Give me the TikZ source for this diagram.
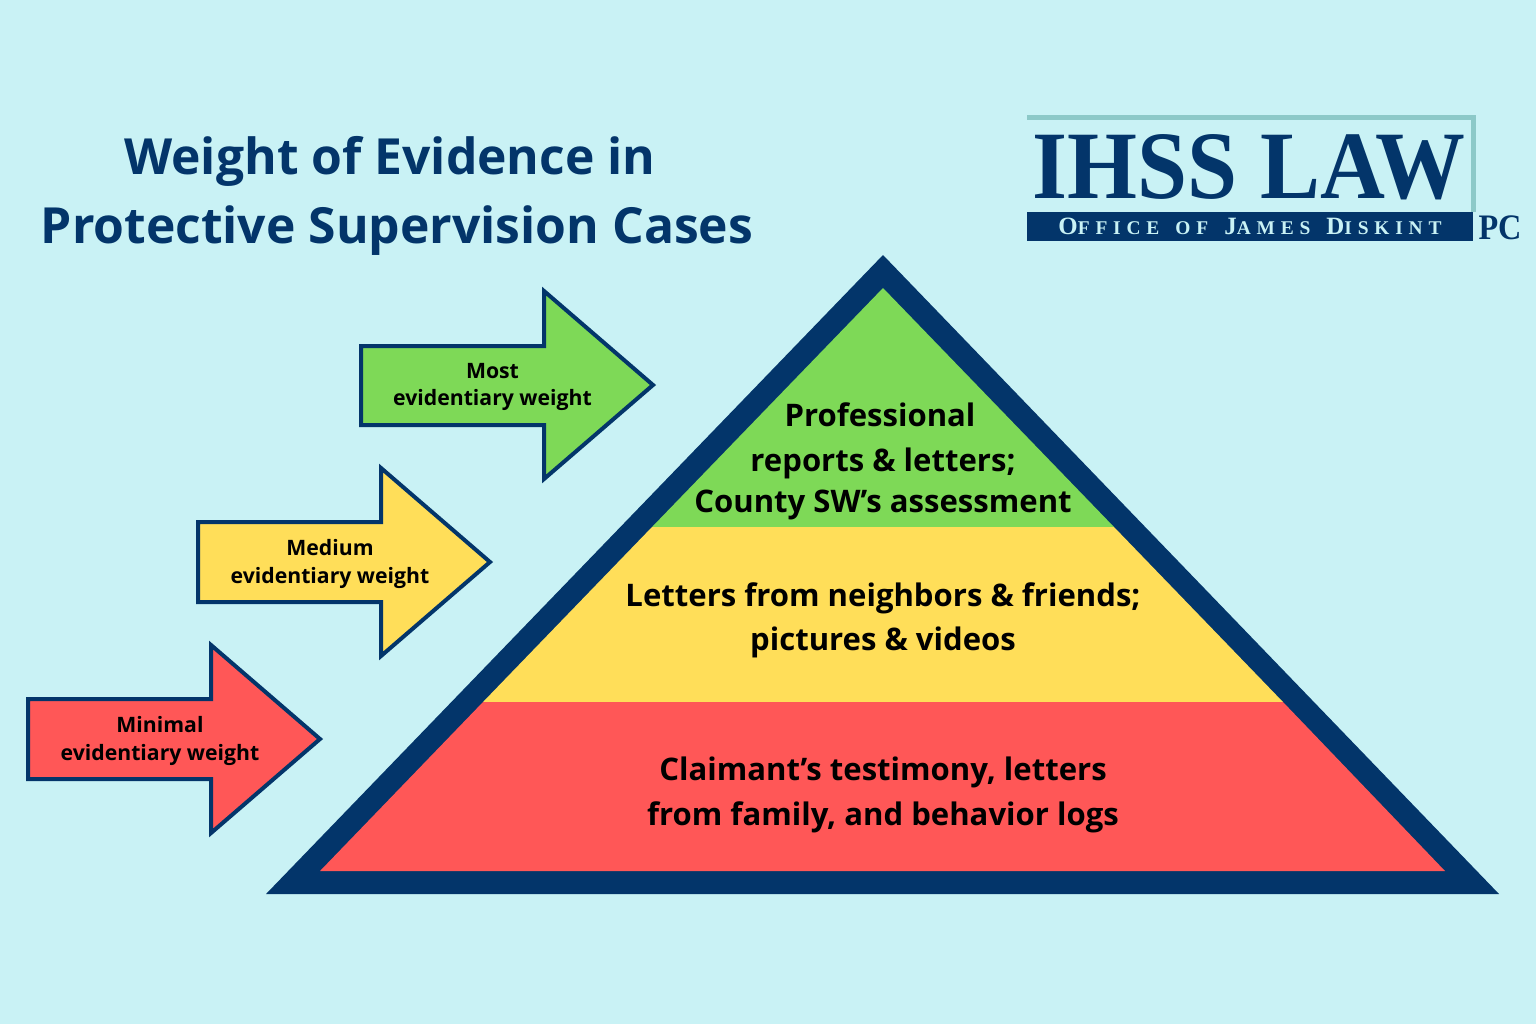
\documentclass[tikz,border=0pt]{standalone}
\usepackage{fontspec}
\setmainfont{Open Sans}
\newfontfamily\logofont{Liberation Serif Bold}
\newfontfamily\logospaced{Liberation Serif Bold}[LetterSpace=30,WordSpace=1.5]
\definecolor{bgc}{HTML}{C9F2F5}
\definecolor{navy}{HTML}{03356A}
\definecolor{teal}{HTML}{8CC9C8}
\definecolor{gr}{HTML}{7ED957}
\definecolor{ye}{HTML}{FFDE59}
\definecolor{re}{HTML}{FF5757}
\newcommand{\sm}[1]{{\fontsize{25}{25}\selectfont #1}}
\tikzset{
 arrowshape/.style={draw=navy,line width=4bp,miter limit=10,line join=miter},
 titletext/.style={text=navy,font=\fontsize{50}{70}\selectfont\bfseries,align=center,inner sep=0pt},
 layertext/.style={text=black,font=\fontsize{31.2}{44.5}\selectfont\bfseries,align=center,inner sep=0pt},
 arrowtext/.style={text=black,font=\fontsize{21.3}{28}\selectfont\bfseries,align=center,inner sep=0pt},
}
\begin{document}
\begin{tikzpicture}[x=1bp,y=-1bp]
\useasboundingbox (0,0) rectangle (1536,1024);
\fill[bgc] (0,0) rectangle (1536,1024);
% title
\node[titletext] (t1) at (390,161) {Weight of Evidence in};
\node[titletext] (t2) at (397,231) {Protective Supervision Cases};
% logo
\fill[teal] (1027,115) rectangle (1476,120);
\fill[teal] (1471,115) rectangle (1476,212);
\fill[navy] (1027,212) rectangle (1473,241);
\node[inner sep=0pt,text=navy,font=\logofont\fontsize{97}{97}\selectfont,xscale=0.93,transform shape] (logo) at (1249,167.5) {IHSS LAW};
\node[inner sep=0pt,text=bgc,font=\logospaced\fontsize{19.5}{19.5}\selectfont] (office) at (1250,226) {\sm{O}FFICE OF \sm{J}AMES \sm{D}ISKINT};
\node[inner sep=0pt,text=navy,font=\logofont\fontsize{36}{36}\selectfont,xscale=0.9,transform shape] (pc) at (1500,228) {PC};
% pyramid
\fill[navy] (883,255) -- (1499,894) -- (266,894) -- cycle;
\fill[gr] (883,288) -- (1114,527) -- (652,527) -- cycle;
\fill[ye] (652,527) -- (1114,527) -- (1283,702) -- (483,702) -- cycle;
\fill[re] (483,702) -- (1283,702) -- (1445,871) -- (320,871) -- cycle;
\node[layertext] (l1a) at (880,415) {Professional};
\node[layertext] (l1b) at (883,463) {reports \& letters;};
\node[layertext] (l1c) at (883,505) {County SW’s assessment};
\node[layertext] (l2) at (883,620) {Letters from neighbors \& friends;\\pictures \& videos};
\node[layertext] (l3) at (883,795) {Claimant’s testimony, letters\\from family, and behavior logs};
% arrows
\filldraw[arrowshape,fill=gr] (361,346) -- (544,346) -- (544,291) -- (653,385) -- (544,479) -- (544,425) -- (361,425) -- cycle;
\filldraw[arrowshape,fill=ye] (198,522) -- (381,522) -- (381,468) -- (490,562) -- (381,656) -- (381,602) -- (198,602) -- cycle;
\filldraw[arrowshape,fill=re] (28,699) -- (211,699) -- (211,645) -- (320,739) -- (211,833) -- (211,779) -- (28,779) -- cycle;
\node[arrowtext] (a1) at (492.5,387) {Most\\evidentiary weight};
\node[arrowtext] (a2) at (330,564) {Medium\\evidentiary weight};
\node[arrowtext] (a3) at (160,741) {Minimal\\evidentiary weight};
\end{tikzpicture}
\end{document}
